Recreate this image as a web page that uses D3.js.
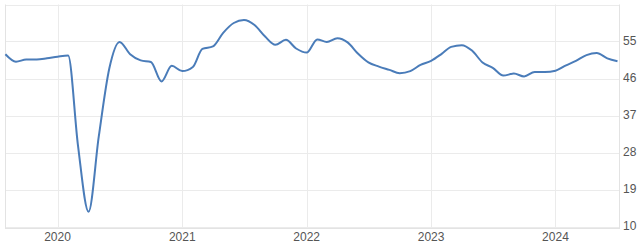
<!DOCTYPE html>
<html>
<head>
<meta charset="utf-8">
<script src="https://cdn.jsdelivr.net/npm/d3@7"></script>
<style>
    body { margin: 0; background: #fff; }
    svg { display: block; font-family: "Liberation Sans", Arial, sans-serif; }
</style>
</head>
<body>
<div id="chart"></div>
<script>
    // monthly values, Aug 2019 .. Jul 2024
    var startMonth = "2019-08";
    var values = [
        51.9, 50.1, 50.6, 50.6, 50.9,
        51.3, 51.6, 29.7, 13.6, 31.9, 48.5, 54.9, 51.9, 50.4, 50.0, 45.3, 49.1,
        47.8, 48.8, 53.2, 53.8, 57.1, 59.5, 60.2, 59.0, 56.2, 54.2, 55.4, 53.3,
        52.3, 55.5, 54.9, 55.8, 54.8, 52.0, 49.9, 48.9, 48.1, 47.3, 47.8, 49.3,
        50.3, 52.0, 53.7, 54.1, 52.8, 49.9, 48.6, 46.7, 47.2, 46.5, 47.6, 47.6,
        47.9, 49.2, 50.3, 51.7, 52.2, 50.9, 50.2
    ];
    var yTicks = [10, 19, 28, 37, 46, 55];
    var yTop = 64;
    var yearTicks = ["2020", "2021", "2022", "2023", "2024"];

    var width = 640;
    var height = 247;
    var plotLeft = 5, plotRight = 619, plotTop = 4.5, plotBottom = 226.5;

    var parseMonth = d3.timeParse("%Y-%m");
    var start = parseMonth(startMonth);
    var data = values.map(function (v, i) {
        return {date: d3.timeMonth.offset(start, i), value: v};
    });

    var x = d3.scaleTime()
        .domain([data[0].date, data[data.length - 1].date])
        .range([plotLeft + 0.4, 617.5]);

    var y = d3.scaleLinear()
        .domain([10, yTop])
        .range([plotBottom, plotTop]);

    var svg = d3.select("#chart").append("svg")
        .attr("width", width)
        .attr("height", height);

    // horizontal grid
    svg.append("g").selectAll("line")
        .data(yTicks.concat([yTop]))
        .enter().append("line")
        .attr("x1", plotLeft)
        .attr("x2", plotRight)
        .attr("y1", function (d) { return Math.round(y(d)) + 0.5; })
        .attr("y2", function (d) { return Math.round(y(d)) + 0.5; })
        .attr("stroke", "#ebebeb")
        .attr("stroke-width", 1);

    // vertical grid at years + frame sides
    var yearDates = yearTicks.map(function (s) { return d3.timeParse("%Y")(s); });
    svg.append("g").selectAll("line")
        .data(yearDates)
        .enter().append("line")
        .attr("x1", function (d) { return Math.round(x(d)) + 0.5; })
        .attr("x2", function (d) { return Math.round(x(d)) + 0.5; })
        .attr("y1", plotTop)
        .attr("y2", 228)
        .attr("stroke", "#ebebeb");

    svg.append("line")
        .attr("x1", plotLeft + 0.5).attr("x2", plotLeft + 0.5)
        .attr("y1", plotTop).attr("y2", 228.5)
        .attr("stroke", "#e3e3e3");
    svg.append("line")
        .attr("x1", plotRight + 0.5).attr("x2", plotRight + 0.5)
        .attr("y1", plotTop).attr("y2", 228.5)
        .attr("stroke", "#e3e3e3");
    svg.append("line")
        .attr("x1", plotLeft).attr("x2", plotRight + 1)
        .attr("y1", 228.5).attr("y2", 228.5)
        .attr("stroke", "#e3e3e3");

    // y labels
    svg.append("g").selectAll("text")
        .data(yTicks)
        .enter().append("text")
        .attr("x", 623)
        .attr("y", function (d) { return y(d) - 1; })
        .attr("dy", "0.35em")
        .attr("font-size", 12)
        .attr("fill", "#555")
        .text(function (d) { return d; });

    // x labels
    svg.append("g").selectAll("text")
        .data(yearDates)
        .enter().append("text")
        .attr("x", function (d) { return x(d); })
        .attr("y", 241)
        .attr("text-anchor", "middle")
        .attr("font-size", 12)
        .attr("fill", "#555")
        .text(function (d) { return d3.timeFormat("%Y")(d); });

    var line = d3.line()
        .x(function (d) { return x(d.date); })
        .y(function (d) { return y(d.value); })
        .curve(d3.curveMonotoneX);

    svg.append("path")
        .datum(data)
        .attr("d", line)
        .attr("fill", "none")
        .attr("stroke", "#4a7cb9")
        .attr("stroke-width", 2);
</script>
</body>
</html>
